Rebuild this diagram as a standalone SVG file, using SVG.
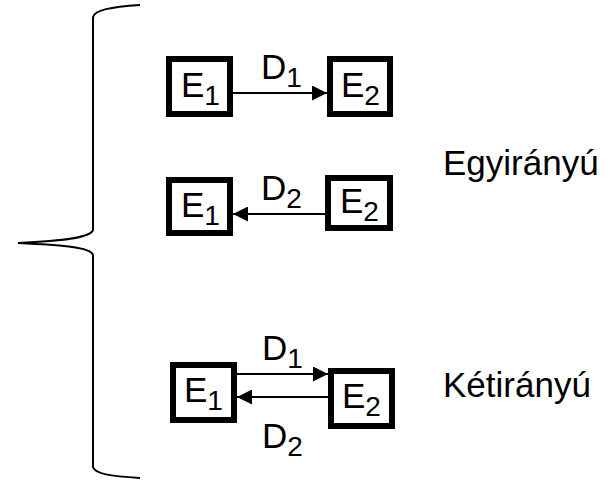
<svg xmlns="http://www.w3.org/2000/svg" width="610" height="482" viewBox="0 0 610 482">
  <style>
    .box { fill: #fff; stroke: #000; stroke-width: 6; }
    .lbl { font-family: "Liberation Sans", Arial, sans-serif; font-size: 35px; fill: #000; }
    .sub { font-size: 28px; }
    .edge { stroke: #000; stroke-width: 2; fill: none; }
    .brace { stroke: #000; stroke-width: 2; fill: none; }
  </style>
  <defs>
    <marker id="arrow" viewBox="0 0 10 10" refX="10" refY="5" markerWidth="8.5" markerHeight="7.5" markerUnits="strokeWidth" orient="auto">
      <path d="M0,0 L10,5 L0,10 Z" fill="#000"/>
    </marker>
  </defs>

  <!-- curly brace grouping the three cases -->
  <path class="brace" d="M140,5 C110,7 95,10 93,17 L93,230 C91,238 60,241 18,243 C60,245 91,247 93,255 L93,467 C95,474 110,476 140,478"/>

  <!-- connectors -->
  <g id="connectors">
    <line class="edge" x1="233" y1="93" x2="327" y2="93" marker-end="url(#arrow)"/>
    <line class="edge" x1="325" y1="214" x2="233" y2="214" marker-end="url(#arrow)"/>
    <line class="edge" x1="237" y1="374" x2="328" y2="374" marker-end="url(#arrow)"/>
    <line class="edge" x1="328" y1="397" x2="237" y2="397" marker-end="url(#arrow)"/>
  </g>

  <!-- one-way, forward -->
  <g id="r1-e1">
    <rect class="box" x="169" y="59" width="61" height="55"/>
    <text class="lbl" x="181" y="97">E<tspan class="sub" dy="8">1</tspan></text>
  </g>
  <g id="r1-e2">
    <rect class="box" x="330" y="59" width="60" height="55"/>
    <text class="lbl" x="341" y="97">E<tspan class="sub" dy="8">2</tspan></text>
  </g>
  <text class="lbl" x="261" y="79">D<tspan class="sub" dy="8">1</tspan></text>

  <!-- one-way, backward -->
  <g id="r2-e1">
    <rect class="box" x="169" y="180" width="61" height="53"/>
    <text class="lbl" x="181" y="217">E<tspan class="sub" dy="8">1</tspan></text>
  </g>
  <g id="r2-e2">
    <rect class="box" x="328" y="178" width="62" height="50"/>
    <text class="lbl" x="340" y="213">E<tspan class="sub" dy="8">2</tspan></text>
  </g>
  <text class="lbl" x="261" y="200">D<tspan class="sub" dy="8">2</tspan></text>

  <!-- two-way -->
  <g id="r3-e1">
    <rect class="box" x="173" y="365" width="61" height="55"/>
    <text class="lbl" x="184" y="402">E<tspan class="sub" dy="8">1</tspan></text>
  </g>
  <g id="r3-e2">
    <rect class="box" x="331" y="371" width="61" height="55"/>
    <text class="lbl" x="342" y="408">E<tspan class="sub" dy="8">2</tspan></text>
  </g>
  <text class="lbl" x="262" y="360">D<tspan class="sub" dy="8">1</tspan></text>
  <text class="lbl" x="262" y="448">D<tspan class="sub" dy="8">2</tspan></text>

  <!-- category captions -->
  <text class="lbl" x="443" y="175">Egyirányú</text>
  <text class="lbl" x="443" y="397">Kétirányú</text>
</svg>
